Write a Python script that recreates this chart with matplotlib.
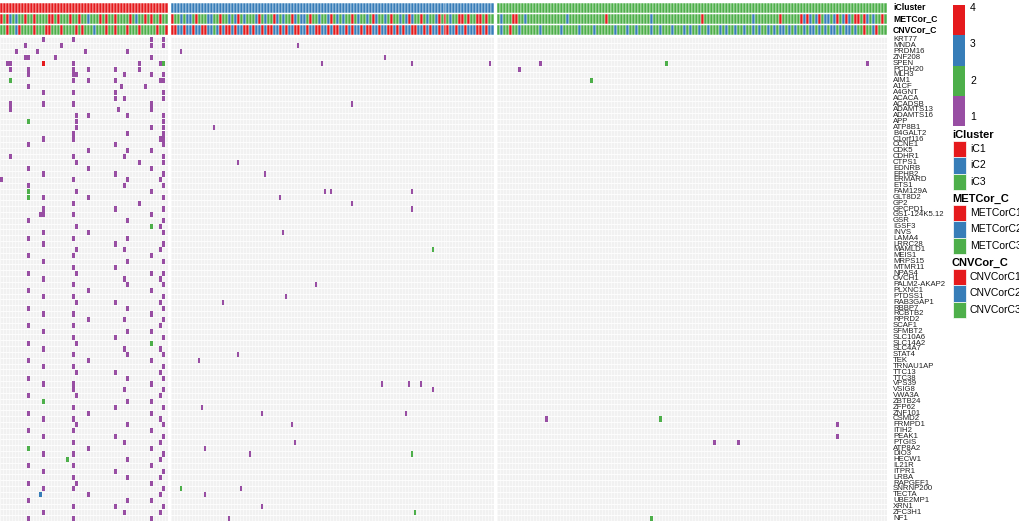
import matplotlib
matplotlib.use('Agg')
import matplotlib.pyplot as plt
from matplotlib.patches import Rectangle

plt.rcParams['font.family'] = ['Liberation Sans', 'DejaVu Sans']

genes = ['KRT77', 'MNDA', 'PRDM16', 'ZNF208', 'SPEN', 'PCDH20', 'MLH3', 'AIM1',
         'A1CF', 'A4GNT', 'ACACA', 'ACADSB', 'ADAMTS13', 'ADAMTS16', 'APP',
         'ATP8B1', 'B4GALT2', 'C1orf116', 'CCNE1', 'CDK5', 'CDHR1', 'CTPS1',
         'EDNRB', 'EPHB2', 'ERMARD', 'ETS1', 'FAM129A', 'GLT8D2', 'GP2',
         'GPCPD1', 'GS1-124K5.12', 'GSR', 'IGSF3', 'INVS', 'LAMA4', 'LRRC28',
         'MAMLD1', 'MEIS1', 'MRPS15', 'MTMR11', 'NPAS4', 'OVCH1',
         'PALM2-AKAP2', 'PLXNC1', 'PTDSS1', 'RAB3GAP1', 'RBBP7', 'RCBTB2',
         'RPRD2', 'SCAF1', 'SFMBT2', 'SLC10A6', 'SLC14A2', 'SLC4A7', 'STAT4',
         'TEK', 'TRNAU1AP', 'TTC13', 'TTC38', 'VPS39', 'VSIG8', 'VWA3A',
         'ZBTB24', 'ZFP62', 'ZNF101', 'CSMD2', 'FRMPD1', 'ITIH2', 'PEAK1',
         'PTGIS', 'ATP8A2', 'DIO3', 'HECW1', 'IL21R', 'ITPR1', 'LRBA',
         'RAPGEF1', 'SNRNP200', 'TECTA', 'UBE2MP1', 'XRN1', 'ZFC3H1', 'NF1']

# samples per iCluster group
group_sizes = [56, 108, 130]

# per-sample annotation (r = C1, b = C2, g = C3), written in groups of ten
met_c = ("rgrbgbggrg grggggrrgr gggrggrggb gggrgrggrg gggrgbggrg rggrgg"
         "rggbgbbgrg ggbbggrggb gbrgbgggbr gbggrbgbgg rbgbbgrggb ggbrgbgbgg "
         "rgbggbgrbg gbgrggbgbr bggrgbggbr grgbggrrgr ggrrgrgg"
         "gbgggrrggb gggggggggg gggbgggggg ggggggrggg gggggggggg gbgggggggg "
         "ggggggggrg gggggggggg gggggbgggg ggggrggggg grbrbgbrgb bgbrgbrbgr").replace(' ', '')
cnv_c = ("ggrggbrggg grgggrrggg rggggrgrgg gbgggrggrg ggrgggrggg ggrggr"
         "rrbbrbbrbb rrbbgbrbrr brbbrrbrbb rbrrbbrbrb brrbbrbbrr bbrbrrbbrb "
         "rbbrbrrbbr bbrrbrbrbb rrbbrbrbbr brrbbrbbrb bbrrbrbb"
         "gbggrggbgg ggggbggggg gbgggggbgg ggbggggggb gggbggbggg gbggbgggbg "
         "ggbgbggbgg bgggbgbggb ggbggbgbgg bgbgbbgbgb ggbgbbgbgb gbbgbgbbgb").replace(' ', '')

# mutation calls: gene -> sample indices, by value (1 purple, 2 green, 3 blue, 4 red)
mut1 = {
    'KRT77': [14, 24, 50, 54],
    'MNDA': [8, 20, 50, 54, 98],
    'PRDM16': [5, 12, 28, 42, 59],
    'ZNF208': [8, 9, 18, 50, 127],
    'SPEN': [2, 3, 24, 46, 53, 106, 136, 162, 178, 287],
    'PCDH20': [3, 9, 24, 29, 38, 46, 171],
    'MLH3': [9, 24, 25, 41, 50, 54],
    'AIM1': [24, 29, 38, 53, 54],
    'A1CF': [9, 40, 48],
    'A4GNT': [14, 24, 38, 54],
    'ACACA': [38, 41, 54],
    'ACADSB': [3, 14, 24, 50, 116],
    'ADAMTS13': [3, 39, 50],
    'ADAMTS16': [25, 29, 42, 54],
    'APP': [25, 54],
    'ATP8B1': [25, 50, 54, 70],
    'B4GALT2': [24, 42, 54],
    'C1orf116': [14, 24, 53, 54],
    'CCNE1': [9, 38, 54],
    'CDK5': [29, 42, 50],
    'CDHR1': [3, 24, 41, 54],
    'CTPS1': [25, 46, 54, 78],
    'EDNRB': [9, 29, 50],
    'EPHB2': [14, 38, 54, 87],
    'ERMARD': [0, 24, 42, 53],
    'ETS1': [9, 41, 54],
    'FAM129A': [25, 50, 107, 109, 136],
    'GLT8D2': [14, 29, 54, 92],
    'GP2': [24, 46, 116],
    'GPCPD1': [14, 38, 54, 136],
    'GS1-124K5.12': [13, 14, 24, 50],
    'GSR': [9, 42, 54],
    'IGSF3': [25, 53],
    'INVS': [14, 29, 54, 93],
    'LAMA4': [9, 24, 42],
    'LRRC28': [14, 38, 54],
    'MAMLD1': [25, 41, 53],
    'MEIS1': [9, 24, 50],
    'MRPS15': [14, 42, 54],
    'MTMR11': [24, 38],
    'NPAS4': [9, 25, 50, 54],
    'OVCH1': [14, 41, 53],
    'PALM2-AKAP2': [24, 42, 54, 104],
    'PLXNC1': [9, 29, 50],
    'PTDSS1': [14, 24, 54, 94],
    'RAB3GAP1': [25, 38, 53, 73],
    'RBBP7': [9, 42, 54],
    'RCBTB2': [14, 24, 50],
    'RPRD2': [29, 41, 54],
    'SCAF1': [9, 24, 53],
    'SFMBT2': [14, 42, 50],
    'SLC10A6': [24, 38, 54],
    'SLC14A2': [9, 25],
    'SLC4A7': [14, 41, 53],
    'STAT4': [24, 42, 54, 78],
    'TEK': [9, 29, 50, 65],
    'TRNAU1AP': [14, 24, 54],
    'TTC13': [25, 38, 53],
    'TTC38': [9, 42, 54],
    'VPS39': [14, 24, 50, 126, 135, 139],
    'VSIG8': [24, 41, 54, 143],
    'VWA3A': [9, 25, 53],
    'ZBTB24': [42, 50],
    'ZFP62': [24, 38, 54, 66],
    'ZNF101': [9, 29, 50, 86, 134],
    'CSMD2': [14, 24, 53, 180],
    'FRMPD1': [25, 42, 54, 96, 277],
    'ITIH2': [9, 24, 50],
    'PEAK1': [14, 38, 54, 277],
    'PTGIS': [24, 41, 53, 97, 236, 244],
    'ATP8A2': [29, 50, 67],
    'DIO3': [14, 24, 54, 82],
    'HECW1': [42, 53],
    'IL21R': [9, 24, 50],
    'ITPR1': [14, 38, 54],
    'LRBA': [24, 42, 53],
    'RAPGEF1': [9, 25, 50],
    'SNRNP200': [14, 24, 54, 79],
    'TECTA': [29, 53, 67],
    'UBE2MP1': [9, 42, 50],
    'XRN1': [24, 38, 54, 86],
    'ZFC3H1': [14, 41, 53],
    'NF1': [9, 24, 50, 75],
}
mut2 = {'SPEN': [54, 220], 'AIM1': [3, 195], 'APP': [9], 'FAM129A': [9],
        'GLT8D2': [9], 'IGSF3': [50], 'MAMLD1': [143], 'SLC14A2': [50],
        'ZBTB24': [14], 'CSMD2': [218], 'ATP8A2': [9], 'HECW1': [22],
        'DIO3': [136], 'SNRNP200': [59], 'ZFC3H1': [137], 'NF1': [215]}
mut3 = {'TECTA': [13]}
mut4 = {'SPEN': [14]}

RED, BLUE, GREEN, PURPLE = '#E41A1C', '#377EB8', '#4DAF4A', '#984EA3'
ann_col = {'r': RED, 'b': BLUE, 'g': GREEN}
mut_col = {1: PURPLE, 2: GREEN, 3: BLUE, 4: RED}

gap = 0.85
xpos = []
starts = []
for g, n in enumerate(group_sizes):
    s = len(xpos)
    starts.append(s)
    for i in range(n):
        xpos.append(s + g * gap + i)
x_max = xpos[-1] + 1

W, H = 1020, 524
fig = plt.figure(figsize=(W / 100, H / 100), dpi=100)


def fax(px_l, px_t, px_w, px_h):
    return fig.add_axes([px_l / W, 1 - (px_t + px_h) / H, px_w / W, px_h / H])


# ---- annotation bars ----
ax_a = fax(0, 3, 887, 33)
ax_a.set_xlim(0, x_max)
ax_a.set_ylim(3, 0)
ax_a.axis('off')
ic_lab = []
for g, n in enumerate(group_sizes):
    ic_lab += ['r', 'b', 'g'][g] * n
for r, row in enumerate([ic_lab, met_c, cnv_c]):
    ax_a.bar(xpos, 0.86, bottom=r + 0.02, width=1.0, align='edge',
             color=[ann_col[c] for c in row], edgecolor='white', linewidth=0.35)
for r, name in enumerate(['iCluster', 'METCor_C', 'CNVCor_C']):
    fig.text(893 / W, 1 - (8 + r * 11) / H, name, fontsize=6.2, weight='bold',
             va='center', ha='left')

# ---- mutation matrix ----
ax = fax(0, 37, 887, 484)
ax.set_xlim(0, x_max)
ax.set_ylim(len(genes), 0)
ax.axis('off')
for g, (s, n) in enumerate(zip(starts, group_sizes)):
    x0 = s + g * gap
    ax.add_patch(Rectangle((x0, 0), n, len(genes), facecolor='#F1F1F1',
                           edgecolor='none', zorder=0))
    ax.vlines([x0 + i for i in range(n + 1)], 0, len(genes), color='white',
              linewidth=0.4, zorder=1)
ax.hlines(range(len(genes) + 1), 0, x_max, color='white', linewidth=0.6, zorder=1)

for val, d in [(1, mut1), (2, mut2), (3, mut3), (4, mut4)]:
    xs, ys = [], []
    for gene, samples in d.items():
        for s in samples:
            xs.append(xpos[s] + 0.12)
            ys.append(genes.index(gene) + 0.06)
    ax.bar(xs, 0.88, bottom=ys, width=0.76, align='edge', color=mut_col[val],
           linewidth=0, zorder=2)

for i, gname in enumerate(genes):
    fig.text(893 / W, 1 - (37 + (i + 0.5) * 484 / len(genes)) / H, gname,
             fontsize=5.6, va='center', ha='left', color='#222222')

# ---- legends (pixel coordinates) ----
lg = fig.add_axes([0, 0, 1, 1])
lg.set_xlim(0, W)
lg.set_ylim(H, 0)
lg.axis('off')
for k, c in enumerate([RED, BLUE, GREEN, PURPLE]):
    lg.add_patch(Rectangle((953, 5 + 30.3 * k), 12, 30.3, facecolor=c, edgecolor='none'))
for lab, y in [('4', 8), ('3', 44), ('2', 81), ('1', 117)]:
    lg.text(970, y, lab, fontsize=7.5, va='center', ha='left')

blocks = [('iCluster', 135, ['iC1', 'iC2', 'iC3']),
          ('METCor_C', 199, ['METCorC1', 'METCorC2', 'METCorC3']),
          ('CNVCor_C', 263, ['CNVCorC1', 'CNVCorC2', 'CNVCorC3'])]
for title, y0, labs in blocks:
    lg.text(952, y0, title, fontsize=8, weight='bold', va='center', ha='left')
    for k, (c, lab) in enumerate(zip([RED, BLUE, GREEN], labs)):
        yy = y0 + 6 + 16.3 * k
        lg.add_patch(Rectangle((953, yy), 13, 16.3, facecolor=c, edgecolor='white',
                               linewidth=0.5))
        lg.text(970, yy + 8.2, lab, fontsize=7.5, va='center', ha='left')

fig.savefig('out.png', dpi=100)
